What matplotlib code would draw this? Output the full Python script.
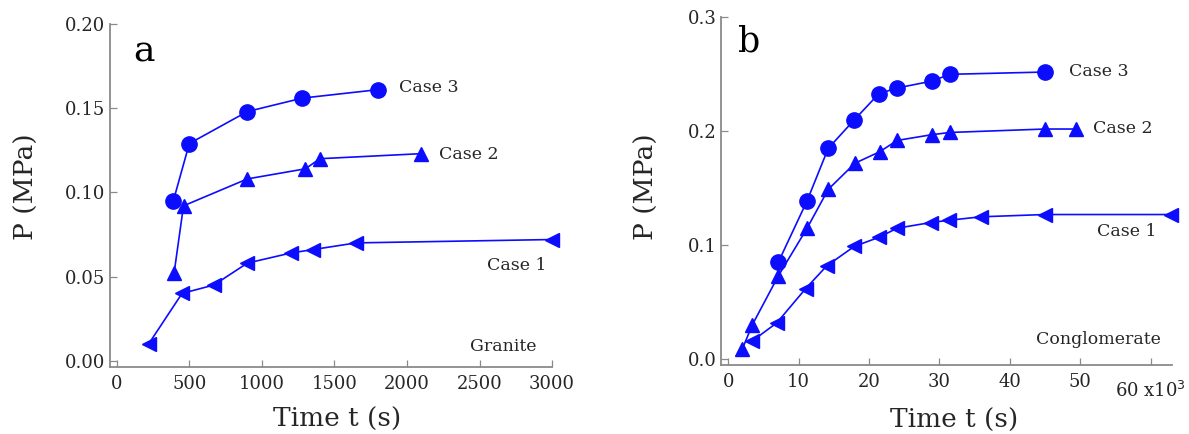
import matplotlib
matplotlib.use("Agg")
import matplotlib.pyplot as plt
from matplotlib.ticker import FormatStrFormatter

# ---- Panel a: Granite (time in s) ----
a_case3_t = [390, 500, 900, 1280, 1800]
a_case3_p = [0.095, 0.129, 0.148, 0.156, 0.161]
a_case2_t = [395, 460, 900, 1300, 1400, 2100]
a_case2_p = [0.052, 0.092, 0.108, 0.114, 0.120, 0.123]
a_case1_t = [220, 450, 670, 900, 1200, 1350, 1650, 3000]
a_case1_p = [0.010, 0.040, 0.045, 0.058, 0.064, 0.066, 0.070, 0.072]
a_xticks = [0, 500, 1000, 1500, 2000, 2500, 3000]
a_yticks = [0.00, 0.05, 0.10, 0.15, 0.20]

# ---- Panel b: Conglomerate (time in 10^3 s) ----
b_case3_t = [7.1, 11.2, 14.2, 17.9, 21.4, 24.0, 28.9, 31.5, 45.0]
b_case3_p = [0.085, 0.139, 0.185, 0.210, 0.233, 0.238, 0.244, 0.250, 0.252]
b_case2_t = [2.0, 3.4, 7.1, 11.2, 14.2, 18.0, 21.5, 24.0, 28.9, 31.5, 45.0, 49.4]
b_case2_p = [0.009, 0.030, 0.073, 0.115, 0.149, 0.172, 0.182, 0.192, 0.197, 0.199, 0.202, 0.202]
b_case1_t = [3.4, 6.9, 11.0, 14.0, 17.9, 21.4, 24.0, 28.8, 31.4, 35.9, 45.0, 62.9]
b_case1_p = [0.016, 0.032, 0.062, 0.082, 0.099, 0.107, 0.115, 0.120, 0.122, 0.125, 0.127, 0.127]
b_xticks = [0, 10, 20, 30, 40, 50, 60]
b_yticks = [0.0, 0.1, 0.2, 0.3]

BLUE = "#0c0cff"
SPINE = "#8a8a8a"
TXT = "#262626"
FONT = "DejaVu Serif"
plt.rcParams["font.family"] = FONT

fig = plt.figure(figsize=(11.89, 4.34), dpi=100)
axa = fig.add_axes([0.0921, 0.1544, 0.3722, 0.7903])
axb = fig.add_axes([0.6061, 0.1590, 0.3793, 0.8011])


def style(ax):
    for s in ("top", "right"):
        ax.spines[s].set_visible(False)
    for s in ("left", "bottom"):
        ax.spines[s].set_color(SPINE)
        ax.spines[s].set_linewidth(1.3)
    ax.tick_params(direction="in", length=5, width=0.9, color=SPINE,
                   labelsize=13, labelcolor=TXT)
    ax.tick_params(axis="x", pad=6)
    ax.tick_params(axis="y", pad=3)


def series(ax, t, p, marker, ms):
    ax.plot(t, p, color=BLUE, lw=1.2, marker=marker, ms=ms,
            mfc=BLUE, mec=BLUE, clip_on=False, zorder=3)


# Panel a
style(axa)
series(axa, a_case3_t, a_case3_p, "o", 11)
series(axa, a_case2_t, a_case2_p, "^", 10)
series(axa, a_case1_t, a_case1_p, "<", 10)
axa.set_xlim(-50, 3000)
axa.set_ylim(-0.0037, 0.20)
axa.set_xticks(a_xticks)
axa.set_yticks(a_yticks)
axa.yaxis.set_major_formatter(FormatStrFormatter("%.2f"))
axa.set_xlabel("Time t (s)", fontsize=19, color=TXT)
axa.set_ylabel("P (MPa)", fontsize=19, color=TXT)
axa.xaxis.set_label_coords(0.515, -0.115)
axa.yaxis.set_label_coords(-0.160, 0.525)
axa.text(112, 0.1834, "a", fontsize=26, color="black", va="center", ha="left")
axa.text(1944, 0.162, "Case 3", fontsize=12.5, color=TXT, va="center", ha="left")
axa.text(2222, 0.1223, "Case 2", fontsize=12.5, color=TXT, va="center", ha="left")
axa.text(2963, 0.0566, "Case 1", fontsize=12.5, color=TXT, va="center", ha="right")
axa.text(2895, 0.0084, "Granite", fontsize=12.5, color=TXT, va="center", ha="right")

# Panel b
style(axb)
series(axb, b_case3_t, b_case3_p, "o", 11)
series(axb, b_case2_t, b_case2_p, "^", 10)
series(axb, b_case1_t, b_case1_p, "<", 10)
axb.set_xlim(-1.08, 63.0)
axb.set_ylim(-0.005, 0.30)
axb.set_xticks(b_xticks)
axb.set_xticklabels([str(v) for v in b_xticks[:-1]] + [""])
axb.set_yticks(b_yticks)
axb.yaxis.set_major_formatter(FormatStrFormatter("%.1f"))
axb.text(60, -0.028, "60 x10$^{3}$", fontsize=13, color=TXT, ha="center", va="center")
axb.set_xlabel("Time t (s)", fontsize=19, color=TXT)
axb.set_ylabel("P (MPa)", fontsize=19, color=TXT)
axb.xaxis.set_label_coords(0.517, -0.122)
axb.yaxis.set_label_coords(-0.137, 0.512)
axb.text(1.4, 0.279, "b", fontsize=25, color="black", va="center", ha="left")
axb.text(48.4, 0.2523, "Case 3", fontsize=12.5, color=TXT, va="center", ha="left")
axb.text(51.8, 0.2026, "Case 2", fontsize=12.5, color=TXT, va="center", ha="left")
axb.text(60.9, 0.112, "Case 1", fontsize=12.5, color=TXT, va="center", ha="right")
axb.text(61.4, 0.017, "Conglomerate", fontsize=12.5, color=TXT, va="center", ha="right")

fig.savefig("out.png", dpi=100)
